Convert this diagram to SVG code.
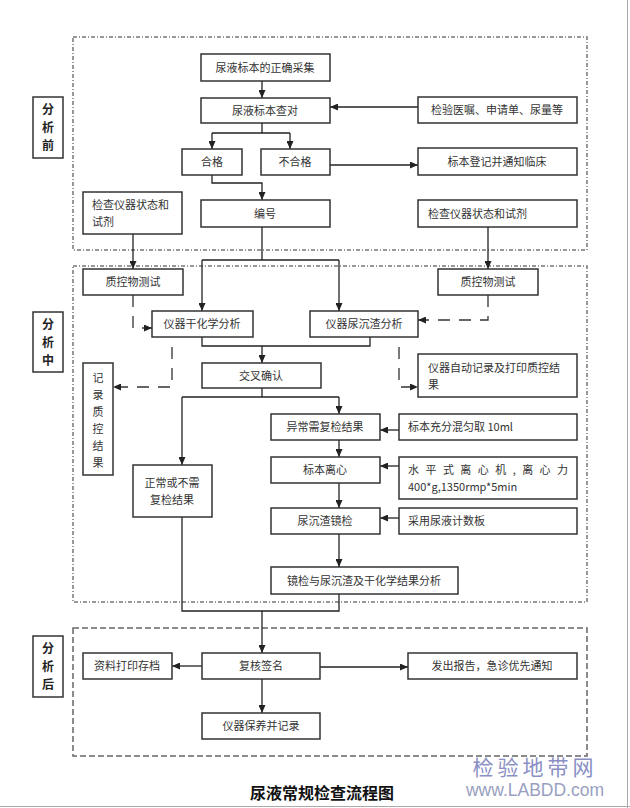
<svg xmlns="http://www.w3.org/2000/svg" width="630" height="808" viewBox="0 0 630 808">
<defs>
<marker id="ah" markerUnits="userSpaceOnUse" markerWidth="8" markerHeight="7" refX="8" refY="3.5" orient="auto"><path d="M0,0 L8,3.5 L0,7 z" fill="#222"/></marker>
<style>
.box{fill:#fff;stroke:#333;stroke-width:1.5}
.t{font-family:"Noto Sans CJK SC","Noto Sans",sans-serif;font-size:11px;fill:#333}
.c{text-anchor:middle}
.lab{font-family:"Noto Sans CJK SC",sans-serif;font-size:12px;font-weight:bold;fill:#222;text-anchor:middle}
.reg1{fill:none;stroke:#777;stroke-width:1.5;stroke-dasharray:4 2 1 2}
.reg2{fill:none;stroke:#666;stroke-width:1.5;stroke-dasharray:6 3}
.ln{fill:none;stroke:#222;stroke-width:1.3}
.dl{fill:none;stroke:#333;stroke-width:1.3;stroke-dasharray:12 9}
</style>
</defs>
<rect width="630" height="808" fill="#fff"/>
<line x1="627.5" y1="0" x2="627.5" y2="808" stroke="#aaa" stroke-width="1"/>
<line x1="0" y1="806.5" x2="630" y2="806.5" stroke="#aaa" stroke-width="1"/>
<g id="regions">
<rect class="reg1" x="73" y="37" width="514" height="213"/>
<rect class="reg1" x="73" y="266" width="514" height="336"/>
<rect class="reg2" x="73" y="628" width="514" height="128"/>
</g>
<g id="label-pre"><rect class="box" x="33" y="97" width="30" height="61"/><text class="lab" x="48" y="114">分</text><text class="lab" x="48" y="132">析</text><text class="lab" x="48" y="150">前</text></g>
<g id="label-mid"><rect class="box" x="33" y="312" width="30" height="60"/><text class="lab" x="48" y="329">分</text><text class="lab" x="48" y="347">析</text><text class="lab" x="48" y="365">中</text></g>
<g id="label-post"><rect class="box" x="33" y="636" width="30" height="61"/><text class="lab" x="48" y="653">分</text><text class="lab" x="48" y="671">析</text><text class="lab" x="48" y="689">后</text></g>
<g id="connectors">
<path class="ln" d="M262,81 V98" marker-end="url(#ah)"/>
<path class="ln" d="M262,123 V133 M212,133 H290"/>
<path class="ln" d="M212,133 V149" marker-end="url(#ah)"/>
<path class="ln" d="M290,133 V149" marker-end="url(#ah)"/>
<path class="ln" d="M212,175 V183 H262 V200" marker-end="url(#ah)"/>
<path class="ln" d="M330,165 H418" marker-end="url(#ah)"/>
<path class="ln" d="M418,107 H330" marker-end="url(#ah)"/>
<path class="ln" d="M262,227 V260 M202,260 H339"/>
<path class="ln" d="M202,260 V311" marker-end="url(#ah)"/>
<path class="ln" d="M339,260 V311" marker-end="url(#ah)"/>
<path class="ln" d="M133,234 V269" marker-end="url(#ah)"/>
<path class="ln" d="M488,227 V269" marker-end="url(#ah)"/>
<path class="dl" d="M133,295 V328 H152" marker-end="url(#ah)"/>
<path class="dl" d="M488,295 V320 H418" marker-end="url(#ah)"/>
<path class="ln" d="M202,337 V346 H370 V337"/>
<path class="ln" d="M262,346 V363" marker-end="url(#ah)"/>
<path class="dl" d="M172,347 V387 H113" marker-end="url(#ah)"/>
<path class="dl" d="M399,347 V387 H418" marker-end="url(#ah)"/>
<path class="ln" d="M262,388 V397 M182,397 H339"/>
<path class="ln" d="M339,397 V414" marker-end="url(#ah)"/>
<path class="ln" d="M182,397 V465" marker-end="url(#ah)"/>
<path class="ln" d="M339,440 V457" marker-end="url(#ah)"/>
<path class="ln" d="M339,483 V508" marker-end="url(#ah)"/>
<path class="ln" d="M339,534 V567" marker-end="url(#ah)"/>
<path class="ln" d="M399,430 H380" marker-end="url(#ah)"/>
<path class="ln" d="M399,466 H380" marker-end="url(#ah)"/>
<path class="ln" d="M399,518 H380" marker-end="url(#ah)"/>
<path class="ln" d="M182,517 V611 H339 V594"/>
<path class="ln" d="M262,611 V653" marker-end="url(#ah)"/>
<path class="ln" d="M202,666 H172" marker-end="url(#ah)"/>
<path class="ln" d="M320,667 H408" marker-end="url(#ah)"/>
<path class="ln" d="M262,679 V713" marker-end="url(#ah)"/>
</g>
<g id="n-collect"><rect class="box" x="201" y="54" width="129" height="27"/><text class="t c" x="265" y="72">尿液标本的正确采集</text></g>
<g id="n-check"><rect class="box" x="201" y="98" width="129" height="25"/><text class="t c" x="265" y="115">尿液标本查对</text></g>
<g id="n-ok"><rect class="box" x="182" y="149" width="60" height="26"/><text class="t c" x="212" y="166">合格</text></g>
<g id="n-notok"><rect class="box" x="261" y="149" width="69" height="26"/><text class="t c" x="295" y="166">不合格</text></g>
<g id="n-number"><rect class="box" x="201" y="200" width="129" height="27"/><text class="t c" x="265" y="218">编号</text></g>
<g id="n-inst-left"><rect class="box" x="83" y="192" width="99" height="42"/><text class="t" x="92" y="209">检查仪器状态和</text><text class="t" x="92" y="226">试剂</text></g>
<g id="n-orders"><rect class="box" x="418" y="97" width="159" height="26"/><text class="t c" x="497" y="114">检验医嘱、申请单、尿量等</text></g>
<g id="n-register"><rect class="box" x="418" y="148" width="159" height="27"/><text class="t c" x="497" y="166">标本登记并通知临床</text></g>
<g id="n-inst-right"><rect class="box" x="418" y="200" width="159" height="27"/><text class="t" x="428" y="218">检查仪器状态和试剂</text></g>
<g id="n-qc-left"><rect class="box" x="83" y="269" width="100" height="26"/><text class="t c" x="133" y="286">质控物测试</text></g>
<g id="n-qc-right"><rect class="box" x="438" y="269" width="100" height="26"/><text class="t c" x="488" y="286">质控物测试</text></g>
<g id="n-dry"><rect class="box" x="152" y="311" width="101" height="26"/><text class="t c" x="202" y="328">仪器干化学分析</text></g>
<g id="n-sed"><rect class="box" x="310" y="311" width="108" height="26"/><text class="t c" x="364" y="328">仪器尿沉渣分析</text></g>
<g id="n-cross"><rect class="box" x="202" y="363" width="119" height="25"/><text class="t c" x="261" y="380">交叉确认</text></g>
<g id="n-record-qc"><rect class="box" x="83" y="363" width="30" height="112"/><text class="t c" x="98" y="382">记</text><text class="t c" x="98" y="399">录</text><text class="t c" x="98" y="416">质</text><text class="t c" x="98" y="433">控</text><text class="t c" x="98" y="450">结</text><text class="t c" x="98" y="467">果</text></g>
<g id="n-auto-record"><rect class="box" x="418" y="354" width="159" height="43"/><text class="t" x="428" y="372">仪器自动记录及打印质控结</text><text class="t" x="428" y="389">果</text></g>
<g id="n-abnormal"><rect class="box" x="271" y="414" width="109" height="26"/><text class="t c" x="325" y="431">异常需复检结果</text></g>
<g id="n-centrifuge"><rect class="box" x="271" y="457" width="109" height="26"/><text class="t c" x="325" y="474">标本离心</text></g>
<g id="n-micro"><rect class="box" x="271" y="508" width="109" height="26"/><text class="t c" x="325" y="525">尿沉渣镜检</text></g>
<g id="n-analysis"><rect class="box" x="271" y="567" width="187" height="27"/><text class="t c" x="364" y="585">镜检与尿沉渣及干化学结果分析</text></g>
<g id="n-mix"><rect class="box" x="399" y="414" width="178" height="26"/><text class="t" x="408" y="431">标本充分混匀取 10ml</text></g>
<g id="n-centrifuge-spec"><rect class="box" x="399" y="457" width="178" height="42"/><text class="t" x="408" y="474" textLength="160" lengthAdjust="spacing">水平式离心机,离心力</text><text class="t" x="408" y="491">400*g,1350rmp*5min</text></g>
<g id="n-plate"><rect class="box" x="399" y="508" width="178" height="26"/><text class="t" x="408" y="525">采用尿液计数板</text></g>
<g id="n-normal"><rect class="box" x="133" y="465" width="79" height="52"/><text class="t c" x="172" y="487">正常或不需</text><text class="t c" x="172" y="504">复检结果</text></g>
<g id="n-review"><rect class="box" x="202" y="653" width="118" height="26"/><text class="t c" x="261" y="670">复核签名</text></g>
<g id="n-archive"><rect class="box" x="83" y="653" width="89" height="26"/><text class="t c" x="127" y="670">资料打印存档</text></g>
<g id="n-report"><rect class="box" x="408" y="653" width="169" height="26"/><text class="t c" x="492" y="670">发出报告，急诊优先通知</text></g>
<g id="n-maint"><rect class="box" x="202" y="713" width="118" height="26"/><text class="t c" x="261" y="730">仪器保养并记录</text></g>
<text x="322" y="799" text-anchor="middle" font-family="Noto Sans CJK SC,sans-serif" font-size="16" font-weight="bold" fill="#111">尿液常规检查流程图</text>
<text x="535" y="775" text-anchor="middle" font-family="Noto Sans CJK SC,sans-serif" font-size="21" letter-spacing="4" fill="#8a8fc4">检验地带网</text>
<text x="535" y="796" text-anchor="middle" font-family="Liberation Sans,sans-serif" font-size="17.5" fill="#9a9fc0">www.LABDD.com</text>
</svg>
